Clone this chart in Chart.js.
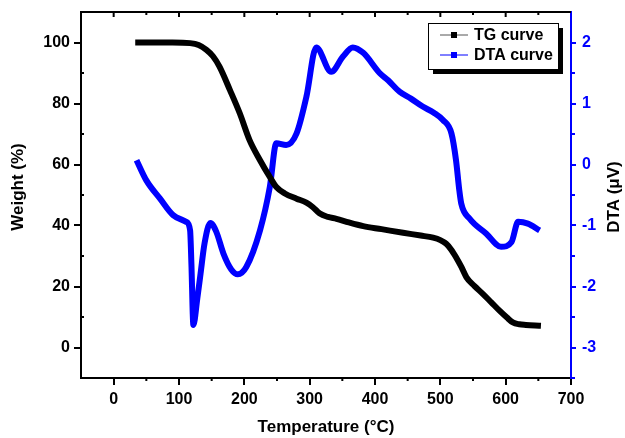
<!DOCTYPE html>
<html>
<head>
<meta charset="utf-8">
<script src="https://cdn.jsdelivr.net/npm/chart.js@4.4.1/dist/chart.umd.min.js"></script>
<style>
  html, body { margin: 0; padding: 0; background: #fff; }
  canvas { display: block; }
</style>
</head>
<body>
<canvas id="tgChart" width="625" height="438"></canvas>
<script>
// --- Dados: curva TG (massa %) ---
const tgTemp = [33, 60, 90, 117, 130, 142, 152, 162, 178, 193, 208, 224, 239, 249, 262, 280, 295, 305, 315, 328, 341, 360, 382, 410, 443, 470, 489, 500, 509, 517, 524, 532, 540, 552, 565, 578, 591, 602, 611, 621, 631, 645, 654];
const tgWeight = [100, 100, 100, 99.8, 99.2, 97.6, 95.5, 92.1, 84.4, 76.8, 68, 61.4, 55.9, 52.6, 50.5, 48.8, 47.5, 46, 44, 42.8, 42.2, 41, 39.8, 38.8, 37.6, 36.7, 36, 35.2, 34, 32, 29.6, 26.5, 23, 20.2, 17.6, 14.8, 12, 9.8, 8.2, 7.6, 7.4, 7.2, 7.1];

// --- Dados: curva DTA (µV) ---
const dtaTemp = [35, 50, 71, 91, 111, 117, 119, 122, 128, 133, 139, 148, 157, 168, 180, 190, 203, 224, 239, 249, 264, 280, 295, 310, 333, 351, 366, 382, 407, 420, 438, 455, 473, 490, 504, 517, 524, 529, 532, 545, 570, 593, 609, 619, 634, 652];
const dtaValue = [0.07, -0.26, -0.56, -0.83, -0.94, -1.08, -1.63, -2.63, -2.2, -1.79, -1.3, -0.96, -1.1, -1.46, -1.72, -1.8, -1.68, -1.08, -0.37, 0.35, 0.32, 0.51, 1.11, 1.92, 1.52, 1.77, 1.92, 1.83, 1.5, 1.38, 1.19, 1.08, 0.95, 0.85, 0.73, 0.51, 0.07, -0.42, -0.64, -0.89, -1.13, -1.35, -1.27, -0.94, -0.97, -1.08];

// Marcas dos eixos
const tempTicks = [0, 100, 200, 300, 400, 500, 600, 700];
const weightTicks = [0, 20, 40, 60, 80, 100];
const dtaTicks = [-3, -2, -1, 0, 1, 2];

const BLUE = '#0000ff';
const FONT = "'Liberation Sans', Arial, sans-serif";
const tickFont = { family: FONT, size: 16, weight: 'bold' };

const toPoints = (xs, ys) => xs.map((v, i) => ({ x: v, y: ys[i] }));
const setTicks = (arr) => (scale) => { scale.ticks = arr.map(v => ({ value: v })); };
// largura fixa dos eixos verticais, sem folga extra para os rótulos
const fixWidth = (w) => (s) => { s.width = w; s.paddingTop = 0; s.paddingBottom = 0; };

// --- Plugin: moldura, marcas menores, títulos e legenda ---
const framePlugin = {
    id: 'frame',
    afterDraw(chart) {
        const { ctx, chartArea: a, scales: { x, y, y1 } } = chart;
        ctx.save();
        ctx.lineWidth = 2;

        // borda superior
        ctx.strokeStyle = '#000';
        ctx.beginPath();
        ctx.moveTo(a.left, a.top);
        ctx.lineTo(a.right, a.top);
        ctx.stroke();

        // marcas do topo e menores do eixo X
        for (let t = 0; t < 700; t += 50) {
            const px = x.getPixelForValue(t);
            ctx.beginPath();
            ctx.moveTo(px, a.top);
            ctx.lineTo(px, a.top + (t % 100 === 0 ? 5 : 3));
            if (t % 100 !== 0) {
                ctx.moveTo(px, a.bottom);
                ctx.lineTo(px, a.bottom + 3);
            }
            ctx.stroke();
        }

        // marcas menores do eixo Weight
        for (let w = -10; w < 110; w += 20) {
            const py = y.getPixelForValue(w);
            ctx.beginPath();
            ctx.moveTo(a.left, py);
            ctx.lineTo(a.left + 3, py);
            ctx.stroke();
        }

        // marcas menores do eixo DTA
        ctx.strokeStyle = BLUE;
        for (let d = -3.5; d < 2.5; d += 1) {
            const py = y1.getPixelForValue(d);
            ctx.beginPath();
            ctx.moveTo(a.right, py);
            ctx.lineTo(a.right + 4, py);
            ctx.stroke();
        }

        // títulos dos eixos
        ctx.fillStyle = '#000';
        ctx.font = `bold 17px ${FONT}`;
        ctx.textAlign = 'center';
        ctx.textBaseline = 'middle';
        ctx.fillText('Temperature (°C)', (a.left + a.right) / 2, 427);

        ctx.save();
        ctx.translate(18, (a.top + a.bottom) / 2 - 8);
        ctx.rotate(-Math.PI / 2);
        ctx.fillText('Weight (%)', 0, 0);
        ctx.restore();

        ctx.save();
        ctx.translate(614, (a.top + a.bottom) / 2 + 2);
        ctx.rotate(-Math.PI / 2);
        ctx.fillText('DTA (\u03BCV)', 0, 0);
        ctx.restore();

        // legenda com sombra
        const bx = 428, by = 23, bw = 130, bh = 46;
        ctx.fillStyle = '#000';
        ctx.fillRect(bx + 5, by + 5, bw, bh);
        ctx.fillStyle = '#fff';
        ctx.fillRect(bx, by, bw, bh);
        ctx.lineWidth = 1;
        ctx.strokeStyle = '#000';
        ctx.strokeRect(bx + 0.5, by + 0.5, bw, bh);

        ctx.font = `bold 16px ${FONT}`;
        ctx.textAlign = 'left';
        chart.data.datasets.forEach((ds, i) => {
            const ly = by + 12 + i * 20;
            ctx.strokeStyle = ds.legendLine;
            ctx.lineWidth = 1;
            ctx.beginPath();
            ctx.moveTo(bx + 12, ly);
            ctx.lineTo(bx + 40, ly);
            ctx.stroke();
            ctx.fillStyle = ds.borderColor;
            ctx.fillRect(bx + 23, ly - 3, 6, 6);
            ctx.fillStyle = '#000';
            ctx.fillText(ds.label, bx + 46, ly + 1);
        });

        ctx.restore();
    }
};

const ctx = document.getElementById('tgChart').getContext('2d');
const chart = new Chart(ctx, {
    type: 'line',
    data: {
        datasets: [{
            label: 'TG curve',
            data: toPoints(tgTemp, tgWeight),
            borderColor: '#000',
            legendLine: '#555',
            borderWidth: 6,
            pointRadius: 0,
            cubicInterpolationMode: 'monotone',
            yAxisID: 'y'
        }, {
            label: 'DTA curve',
            data: toPoints(dtaTemp, dtaValue),
            borderColor: BLUE,
            legendLine: BLUE,
            borderWidth: 6,
            pointRadius: 0,
            cubicInterpolationMode: 'monotone',
            yAxisID: 'y1'
        }]
    },
    options: {
        responsive: false,
        animation: false,
        layout: { padding: { top: 12 } },
        plugins: { legend: { display: false }, tooltip: { enabled: false } },
        scales: {
            x: {
                type: 'linear',
                min: -50,
                max: 700,
                afterBuildTicks: setTicks(tempTicks),
                afterFit: (s) => { s.height = 60; s.paddingLeft = 0; s.paddingRight = 0; },
                grid: { drawOnChartArea: false, tickLength: 7, color: '#000', lineWidth: 2 },
                border: { color: '#000', width: 2 },
                ticks: { color: '#000', font: tickFont, padding: 5, maxRotation: 0 }
            },
            y: {
                position: 'left',
                min: -10,
                max: 110,
                afterBuildTicks: setTicks(weightTicks),
                afterFit: fixWidth(81),
                grid: { drawOnChartArea: false, tickLength: 7, color: '#000', lineWidth: 2 },
                border: { color: '#000', width: 2 },
                ticks: { color: '#000', font: tickFont, padding: 4 }
            },
            y1: {
                position: 'right',
                min: -3.5,
                max: 2.5,
                afterBuildTicks: setTicks(dtaTicks),
                afterFit: fixWidth(54),
                grid: { drawOnChartArea: false, tickLength: 5, color: BLUE, lineWidth: 2 },
                border: { color: BLUE, width: 2 },
                ticks: { color: BLUE, font: tickFont, padding: 6 }
            }
        }
    },
    plugins: [framePlugin]
});
</script>
</body>
</html>
